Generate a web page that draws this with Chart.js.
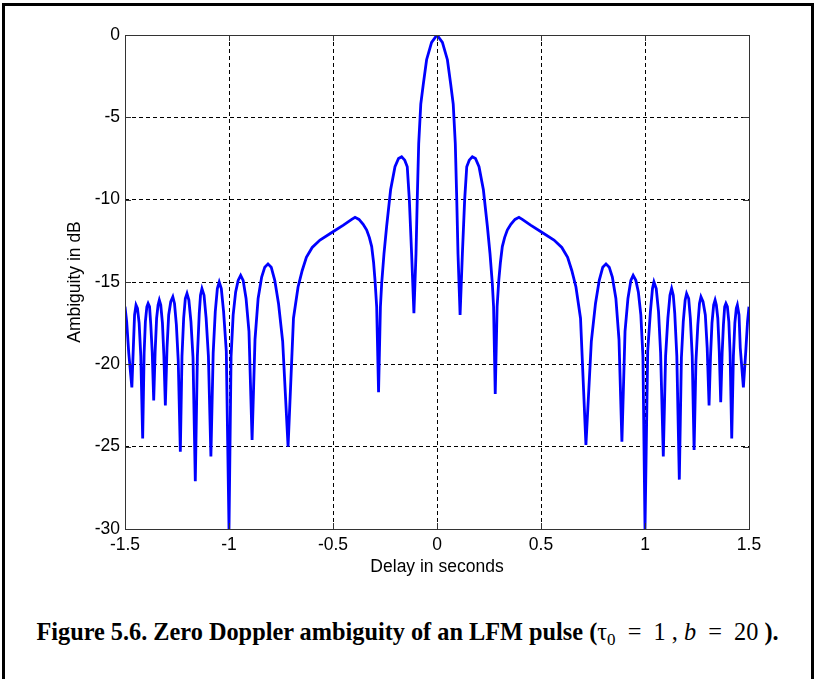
<!DOCTYPE html>
<html lang="en">
<head>
<meta charset="UTF-8">
<title>Zero Doppler ambiguity of an LFM pulse</title>
<script src="https://cdn.jsdelivr.net/npm/chart.js"></script>
<style>
  html, body { margin: 0; padding: 0; background: #fff; }
  body { width: 815px; height: 679px; position: relative; overflow: hidden; }
  .frame { position: absolute; left: 2px; top: 3px; width: 806px; height: 720px; border: 3px solid #000; }
  #wrap { position: absolute; left: 0; top: 0; width: 815px; height: 600px; }
  .caption {
    position: absolute; left: 0; top: 618px; width: 815px; text-align: center;
    font-family: "Liberation Serif", "Times New Roman", serif; font-weight: bold;
    font-size: 24.3px; color: #000; white-space: nowrap;
  }
  .caption .m { font-weight: normal; }
  .caption sub { font-size: 17px; vertical-align: -5px; line-height: 0; }
</style>
</head>
<body>

<div class="frame"></div>
<div id="wrap"><canvas id="ambChart" width="815" height="600"></canvas></div>
<div class="caption">Figure 5.6. Zero Doppler ambiguity of an LFM pulse (<span class="m">&tau;<sub>0</sub> &nbsp;= &nbsp;1 , <i>b</i> &nbsp;= &nbsp;20 </span>).</div>

<script>
    // delay (s) and ambiguity (dB)
    const delay = [
        -1.5, -1.492, -1.482, -1.467, -1.46, -1.454, -1.447, -1.44, -1.432, -1.424, -1.415,
        -1.408, -1.402, -1.395, -1.389, -1.382, -1.376, -1.369, -1.362,
        -1.355, -1.348, -1.341, -1.335, -1.328, -1.32, -1.313, -1.306,
        -1.298, -1.29, -1.28, -1.27, -1.262, -1.253, -1.244, -1.234,
        -1.226, -1.218, -1.21, -1.202, -1.193, -1.183, -1.173, -1.162,
        -1.152, -1.143, -1.137, -1.13, -1.12, -1.11, -1.099, -1.087,
        -1.076, -1.066, -1.056, -1.047, -1.037, -1.026, -1.013, -1.0,
        -0.99, -0.98, -0.968, -0.956, -0.944, -0.932, -0.918, -0.904, -0.889,
        -0.875, -0.86, -0.843, -0.828, -0.8125, -0.797, -0.78, -0.762, -0.742, -0.716,
        -0.69, -0.668, -0.648, -0.628, -0.6, -0.5625, -0.5, -0.45, -0.41, -0.394,
        -0.375, -0.355, -0.338, -0.325, -0.314, -0.305, -0.298, -0.29, -0.281,
        -0.272, -0.266, -0.255, -0.242, -0.223, -0.202, -0.185, -0.17,
        -0.155, -0.143, -0.133, -0.122, -0.111,
        -0.101, -0.095, -0.088, -0.078, -0.066, -0.05, -0.026, 0,
        0.026, 0.05, 0.066, 0.078, 0.088, 0.095, 0.101,
        0.111, 0.122, 0.133, 0.143, 0.155,
        0.17, 0.185, 0.202, 0.223, 0.242, 0.255, 0.266, 0.272,
        0.28, 0.289, 0.297, 0.305, 0.314, 0.325, 0.338, 0.355, 0.375,
        0.394, 0.41, 0.45, 0.5, 0.5625, 0.6, 0.628, 0.648, 0.668, 0.69,
        0.716, 0.742, 0.762, 0.78, 0.797, 0.8125, 0.828, 0.843, 0.86, 0.875,
        0.889, 0.904, 0.918, 0.932, 0.943, 0.956, 0.968, 0.98, 0.99,
        1.0, 1.013, 1.026, 1.036, 1.043, 1.054, 1.065, 1.075,
        1.088, 1.099, 1.11, 1.12, 1.128, 1.136, 1.143, 1.153,
        1.165, 1.175, 1.184, 1.193, 1.2, 1.21, 1.218, 1.227,
        1.236, 1.245, 1.254, 1.262, 1.269, 1.279, 1.29, 1.299,
        1.308, 1.315, 1.322, 1.33, 1.337, 1.343, 1.35, 1.357,
        1.364, 1.371, 1.377, 1.383, 1.389, 1.396, 1.403, 1.409,
        1.417, 1.425, 1.432, 1.439, 1.444, 1.452, 1.458, 1.473, 1.484, 1.493, 1.5
    ];
    const ambiguityDb = [
        -16.5, -17.4, -19.3, -21.4, -19.0, -17.0, -16.4, -16.6, -17.5, -19.5, -24.5,
        -19.3, -17.4, -16.5, -16.3, -16.5, -17.6, -19.3, -22.2,
        -19.2, -17.2, -16.4, -16.1, -16.4, -17.5, -19.5, -22.5,
        -19.0, -17.0, -16.2, -15.9, -16.3, -17.6, -19.8, -25.3,
        -19.5, -17.2, -16.0, -15.7, -16.1, -17.4, -19.6, -27.1,
        -19.5, -16.9, -15.8, -15.4, -15.8, -17.2, -19.5, -25.6,
        -19.3, -16.8, -15.4, -15.0, -15.4, -16.8, -19.2, -30,
        -19.5, -17.0, -15.6, -14.9, -14.6, -14.9, -16.0, -18.0, -24.6,
        -18.5, -16.0, -14.7, -14.1, -13.9, -14.1, -14.9, -16.3, -18.6, -25.0,
        -17.2, -15.3, -14.3, -13.5, -12.9, -12.45, -11.95, -11.55, -11.2, -11.07,
        -11.2, -11.5, -11.85, -12.3, -12.85, -13.8, -14.9, -16.5, -21.7,
        -16.5, -15.1, -13.3, -11.6, -9.4, -8.0, -7.5, -7.39,
        -7.6, -8.0, -10.0, -13.3, -16.9,
        -13.3, -10.0, -6.6, -4.2, -3.0, -1.5, -0.45, 0,
        -0.45, -1.5, -3.0, -4.2, -6.6, -10.0, -13.3,
        -17.0, -13.3, -10.0, -8.0, -7.6,
        -7.4, -7.5, -8.0, -9.4, -11.6, -13.3, -15.1, -16.5,
        -21.8, -16.5, -14.9, -13.8, -12.85, -12.3, -11.85, -11.5, -11.2,
        -11.07, -11.2, -11.55, -11.95, -12.45, -12.9, -13.5, -14.3, -15.3, -17.2,
        -24.9, -18.6, -16.3, -14.9, -14.1, -13.9, -14.1, -14.7, -16.0, -18.5,
        -24.7, -18.0, -16.0, -14.9, -14.6, -14.9, -15.6, -17.0, -19.5,
        -30, -19.2, -16.8, -15.4, -15.0, -15.4, -16.8, -19.3,
        -25.6, -19.5, -17.2, -15.8, -15.4, -15.8, -16.9, -19.5,
        -27.0, -19.6, -17.4, -16.1, -15.7, -16.0, -17.2, -19.5,
        -25.2, -19.8, -17.6, -16.3, -15.9, -16.2, -17.0, -19.0,
        -22.5, -19.5, -17.5, -16.4, -16.1, -16.4, -17.2, -19.2,
        -22.3, -19.3, -17.6, -16.5, -16.3, -16.5, -17.4, -19.3,
        -24.5, -19.5, -17.5, -16.6, -16.4, -17.0, -19.0, -21.4, -19.3, -17.4, -16.5
    ];
    const xTickValues = [-1.5, -1, -0.5, 0, 0.5, 1, 1.5];
    const xTickLabels = ['-1.5', '-1', '-0.5', '0', '0.5', '1', '1.5'];
    const yTickValues = [-30, -25, -20, -15, -10, -5, 0];
    const yTickLabels = ['-30', '-25', '-20', '-15', '-10', '-5', '0'];

    const axisFont = { family: '"Liberation Sans", Arial, sans-serif', size: 17.5 };

    // box around the axes plus short inward ticks on all four sides
    const boxPlugin = {
        id: 'box',
        afterDraw(chart) {
            const { ctx, chartArea: a, scales } = chart;
            ctx.save();
            ctx.strokeStyle = '#333';
            ctx.lineWidth = 1;
            ctx.beginPath();
            xTickValues.forEach(v => {
                const px = Math.round(scales.x.getPixelForValue(v)) + 0.5;
                ctx.moveTo(px, a.bottom); ctx.lineTo(px, a.bottom - 6);
                ctx.moveTo(px, a.top); ctx.lineTo(px, a.top + 6);
            });
            yTickValues.forEach(v => {
                const py = Math.round(scales.y.getPixelForValue(v)) + 0.5;
                ctx.moveTo(a.left, py); ctx.lineTo(a.left + 6, py);
                ctx.moveTo(a.right, py); ctx.lineTo(a.right - 6, py);
            });
            ctx.stroke();
            ctx.strokeRect(Math.round(a.left) + 0.5, Math.round(a.top) + 0.5,
                Math.round(a.right - a.left), Math.round(a.bottom - a.top));
            ctx.restore();
        }
    };

    new Chart(document.getElementById('ambChart'), {
        type: 'line',
        data: {
            datasets: [{
                data: delay.map((d, i) => ({ x: d, y: ambiguityDb[i] })),
                borderColor: '#0000ff',
                borderWidth: 2.8,
                pointRadius: 0,
                tension: 0,
                fill: false
            }]
        },
        options: {
            responsive: false,
            animation: false,
            layout: { padding: { left: 65, right: 66, top: 35, bottom: 22 } },
            plugins: { legend: { display: false }, tooltip: { enabled: false } },
            scales: {
                x: {
                    type: 'linear',
                    min: -1.5,
                    max: 1.5,
                    afterBuildTicks: s => { s.ticks = xTickValues.map(v => ({ value: v })); },
                    afterFit: s => { s.height = 49; },
                    grid: { color: '#000', lineWidth: 1, drawTicks: false },
                    border: { display: false, dash: [4, 3] },
                    ticks: {
                        color: '#000', font: axisFont, padding: 6, maxRotation: 0, autoSkip: false,
                        callback: (v, i) => xTickLabels[i]
                    },
                    title: { display: true, text: 'Delay in seconds', color: '#000', font: axisFont, padding: 0 }
                },
                y: {
                    min: -30,
                    max: 0,
                    afterBuildTicks: s => { s.ticks = yTickValues.map(v => ({ value: v })); },
                    afterFit: s => { s.width = 60; },
                    grid: { color: '#000', lineWidth: 1, drawTicks: false },
                    border: { display: false, dash: [4, 3] },
                    ticks: { color: '#000', font: axisFont, padding: 5, callback: (v, i) => yTickLabels[i] },
                    title: { display: true, text: 'Ambiguity in dB', color: '#000', font: axisFont, padding: 0 }
                }
            }
        },
        plugins: [boxPlugin]
    });
</script>

</body>
</html>
